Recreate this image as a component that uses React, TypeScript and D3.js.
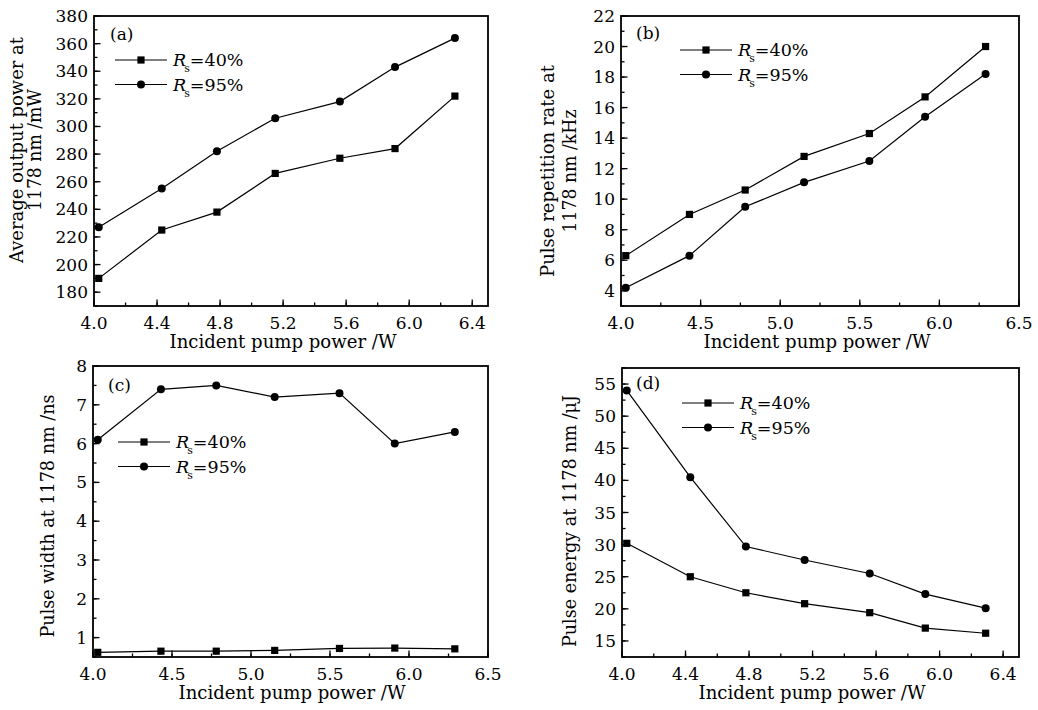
import { useEffect, useRef } from "react";
import * as d3 from "d3";

// pump power (W), same for every panel
const pumpPower = [4.03, 4.43, 4.78, 5.15, 5.56, 5.91, 6.29];

// (a) average output power /mW
const powerRs40 = [190, 225, 238, 266, 277, 284, 322];
const powerRs95 = [227, 255, 282, 306, 318, 343, 364];
// (b) repetition rate /kHz
const rateRs40 = [6.3, 9.0, 10.6, 12.8, 14.3, 16.7, 20.0];
const rateRs95 = [4.2, 6.3, 9.5, 11.1, 12.5, 15.4, 18.2];
// (c) pulse width /ns
const widthRs40 = [0.62, 0.65, 0.65, 0.67, 0.72, 0.73, 0.71];
const widthRs95 = [6.1, 7.4, 7.5, 7.2, 7.3, 6.0, 6.3];
// (d) pulse energy /uJ
const energyRs40 = [30.2, 25.0, 22.5, 20.8, 19.4, 17.0, 16.2];
const energyRs95 = [54.0, 40.5, 29.7, 27.6, 25.5, 22.3, 20.1];

const xTicksA = [4.0, 4.4, 4.8, 5.2, 5.6, 6.0, 6.4];
const xTicksB = [4.0, 4.5, 5.0, 5.5, 6.0, 6.5];
const yTicksA = [180, 200, 220, 240, 260, 280, 300, 320, 340, 360, 380];
const yTicksB = [4, 6, 8, 10, 12, 14, 16, 18, 20, 22];
const yTicksC = [1, 2, 3, 4, 5, 6, 7, 8];
const yTicksD = [15, 20, 25, 30, 35, 40, 45, 50, 55];

const seriesNames = ["40%", "95%"];
const xTitle = "Incident pump power /W";
const FONT = "'DejaVu Serif', serif";

const panels = [
  {
    tag: "(a)", box: [94, 488, 16, 306], xDom: [4, 6.5], yDom: [170, 380],
    xTicks: xTicksA, xMinor: 0.2, yTicks: yTicksA, yMinor: 10,
    s40: powerRs40, s95: powerRs95,
    yTitle: ["Average output power at", "1178 nm /mW"], yTitleLen: [226, 122],
    yTitleX: [17, 35], yTitleMid: 150, xTitleMid: 283,
    legend: [115, 60], tagPos: [110, 40],
  },
  {
    tag: "(b)", box: [621, 1019, 16, 306], xDom: [4, 6.5], yDom: [3, 22],
    xTicks: xTicksB, xMinor: 0.25, yTicks: yTicksB, yMinor: 1,
    s40: rateRs40, s95: rateRs95,
    yTitle: ["Pulse repetition rate at", "1178 nm /kHz"], yTitleLen: [212, 123],
    yTitleX: [548, 570], yTitleMid: 171, xTitleMid: 817,
    legend: [680, 50], tagPos: [636, 39],
  },
  {
    tag: "(c)", box: [93, 488, 366, 657], xDom: [4, 6.5], yDom: [0.5, 8],
    xTicks: xTicksB, xMinor: 0.25, yTicks: yTicksC, yMinor: 0.5,
    s40: widthRs40, s95: widthRs95,
    yTitle: ["Pulse width at 1178 nm /ns"], yTitleLen: [243],
    yTitleX: [48], yTitleMid: 516, xTitleMid: 292,
    legend: [118, 442], tagPos: [108, 391],
  },
  {
    tag: "(d)", box: [622, 1019, 368, 657], xDom: [4, 6.5], yDom: [12.5, 57.5],
    xTicks: xTicksA, xMinor: 0.2, yTicks: yTicksD, yMinor: 2.5,
    s40: energyRs40, s95: energyRs95,
    yTitle: ["Pulse energy at 1178 nm /\u03bcJ"], yTitleLen: [252],
    yTitleX: [570], yTitleMid: 521, xTitleMid: 812,
    legend: [682, 403], tagPos: [636, 389],
  },
];

function drawMarker(g, kind, cx, cy) {
  if (kind === 0) {
    g.append("rect").attr("x", cx - 3.6).attr("y", cy - 3.6)
      .attr("width", 7.2).attr("height", 7.2).attr("fill", "#000");
  } else {
    g.append("circle").attr("cx", cx).attr("cy", cy).attr("r", 4).attr("fill", "#000");
  }
}

export default function App() {
  const ref = useRef(null);

  useEffect(() => {
    const svg = d3.select(ref.current);
    svg.selectAll("*").remove();

    panels.forEach((p) => {
      const [l, r, t, b] = p.box;
      const x = d3.scaleLinear(p.xDom, [l, r]);
      const y = d3.scaleLinear(p.yDom, [b, t]);
      const g = svg.append("g").attr("font-family", FONT).attr("fill", "#000");

      // minor ticks
      const xm = d3.range(p.xDom[0], p.xDom[1] + 1e-9, p.xMinor);
      const ym = d3.range(p.yDom[0], p.yDom[1] + 1e-9, p.yMinor);
      g.append("g").selectAll("line").data(xm).join("line")
        .attr("x1", (d) => x(d)).attr("x2", (d) => x(d))
        .attr("y1", b).attr("y2", b - 3.5)
        .attr("stroke", "#000").attr("stroke-width", 1.3);
      g.append("g").selectAll("line").data(ym).join("line")
        .attr("x1", l).attr("x2", l + 3.5)
        .attr("y1", (d) => y(d)).attr("y2", (d) => y(d))
        .attr("stroke", "#000").attr("stroke-width", 1.3);

      // major ticks + labels
      g.append("g").selectAll("line").data(p.xTicks).join("line")
        .attr("x1", (d) => x(d)).attr("x2", (d) => x(d))
        .attr("y1", b).attr("y2", b - 6.5)
        .attr("stroke", "#000").attr("stroke-width", 1.3);
      g.append("g").selectAll("text").data(p.xTicks).join("text")
        .attr("x", (d) => x(d)).attr("y", b + 23)
        .attr("text-anchor", "middle").attr("font-size", 17)
        .text((d) => d3.format(".1f")(d));
      g.append("g").selectAll("line").data(p.yTicks).join("line")
        .attr("x1", l).attr("x2", l + 6.5)
        .attr("y1", (d) => y(d)).attr("y2", (d) => y(d))
        .attr("stroke", "#000").attr("stroke-width", 1.3);
      g.append("g").selectAll("text").data(p.yTicks).join("text")
        .attr("x", l - 6).attr("y", (d) => y(d) + 6)
        .attr("text-anchor", "end").attr("font-size", 17)
        .text((d) => String(d));

      // frame
      g.append("rect").attr("x", l).attr("y", t)
        .attr("width", r - l).attr("height", b - t)
        .attr("fill", "none").attr("stroke", "#000").attr("stroke-width", 1.8);

      // axis titles
      g.append("text").attr("x", p.xTitleMid).attr("y", b + 42)
        .attr("text-anchor", "middle").attr("font-size", 18)
        .attr("textLength", 227).attr("lengthAdjust", "spacingAndGlyphs")
        .text(xTitle);
      p.yTitle.forEach((line, i) => {
        g.append("text")
          .attr("transform", `translate(${p.yTitleX[i] + 6},${p.yTitleMid}) rotate(-90)`)
          .attr("text-anchor", "middle").attr("font-size", 18)
          .attr("textLength", p.yTitleLen[i]).attr("lengthAdjust", "spacingAndGlyphs")
          .text(line);
      });

      // series
      const line = d3.line().x((d) => x(d[0])).y((d) => y(d[1]));
      [p.s40, p.s95].forEach((vals, k) => {
        const pts = pumpPower.map((v, i) => [v, vals[i]]);
        g.append("path").attr("d", line(pts))
          .attr("fill", "none").attr("stroke", "#000").attr("stroke-width", 1.2);
        pts.forEach((d) => drawMarker(g, k, x(d[0]), y(d[1])));
      });

      // panel tag
      g.append("text").attr("x", p.tagPos[0]).attr("y", p.tagPos[1])
        .attr("font-size", 17).text(p.tag);

      // legend
      const [lx, ly] = p.legend;
      seriesNames.forEach((name, k) => {
        const yy = ly + k * 24.5;
        g.append("line").attr("x1", lx).attr("x2", lx + 52)
          .attr("y1", yy).attr("y2", yy)
          .attr("stroke", "#000").attr("stroke-width", 1.2);
        drawMarker(g, k, lx + 26, yy);
        const txt = g.append("text").attr("x", lx + 58).attr("y", yy + 6).attr("font-size", 17.5);
        txt.append("tspan").attr("font-style", "italic").text("R");
        txt.append("tspan").attr("font-size", 11).attr("dy", 6).attr("dx", -2).text("s");
        txt.append("tspan").attr("dy", -6).text("=" + name);
      });
    });
  }, []);

  return (
    <div style={{ position: "absolute", left: 0, top: 0 }}>
      <svg ref={ref} width={1038} height={710} style={{ display: "block", background: "#fff" }} />
    </div>
  );
}
